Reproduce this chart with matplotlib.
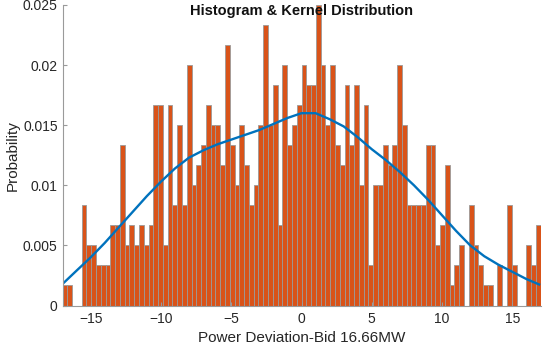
import matplotlib
matplotlib.use("Agg")
import matplotlib.pyplot as plt
import numpy as np

plt.rcParams["font.family"] = ["Liberation Sans", "DejaVu Sans"]

BAR = "#D95319"
EDGE = "#9a9a9a"
LINE = "#0072BD"
AXIS = "#9a9a9a"

# histogram: 100 bins of width 0.34 from -17 to 17, counts out of 600 samples
bin_start = -17.0
bin_width = 0.34
n_samples = 600
counts = [1, 1, 0, 0, 5, 3, 3, 2, 2, 2, 4, 4,
          8, 3, 4, 3, 4, 3, 4, 10, 10, 3, 10, 5, 9,
          5, 12, 6, 7, 8, 10, 9, 9, 7, 13, 8, 6, 9,
          7, 5, 6, 9, 14, 9, 11, 4, 12, 8, 9, 10,
          12, 11, 11, 15, 12, 9, 12, 8, 7, 11, 8, 11, 6,
          10, 2, 6, 6, 8, 7, 8, 12, 9, 5, 5, 5, 5,
          8, 8, 3, 4, 7, 1, 2, 3, 0, 5, 3, 2, 1, 1, 0, 2, 0, 5, 2, 0, 0, 3, 2, 4]

# kernel density curve
kde_x = [-16.9, -16, -15, -14, -13, -12, -11, -10, -9, -8, -7, -6, -5, -4, -3,
         -2, -1, 0, 1, 2, 3, 4, 5, 6, 7, 8, 9, 10, 11, 12, 13, 14, 15, 16, 16.9]
kde_y = [0.0019, 0.0029, 0.0040, 0.0052, 0.0065, 0.0078, 0.0091, 0.0103, 0.0114,
         0.0123, 0.0129, 0.0134, 0.0138, 0.0142, 0.0146, 0.0151, 0.0156, 0.0160,
         0.0160, 0.0155, 0.0149, 0.0140, 0.0130, 0.0121, 0.0111, 0.0100, 0.0088,
         0.0075, 0.0062, 0.0050, 0.0041, 0.0034, 0.0028, 0.0022, 0.00175]

y_ticks = [0, 0.005, 0.01, 0.015, 0.02, 0.025]
y_labels = ["0", "0.005", "0.01", "0.015", "0.02", "0.025"]
x_ticks = [-15, -10, -5, 0, 5, 10, 15]

fig = plt.figure(figsize=(5.5, 3.45), dpi=100)
ax = fig.add_axes([62.5 / 550, 1 - 305.5 / 345, 478 / 550, 300.5 / 345])

lefts = bin_start + bin_width * np.arange(len(counts))
probs = np.array(counts) / n_samples
ax.bar(lefts, probs, width=bin_width, align="edge", color=BAR,
       edgecolor=EDGE, linewidth=0.6)
ax.plot(kde_x, kde_y, color=LINE, lw=1.7)

ax.set_xlim(-17, 17)
ax.set_ylim(0, 0.025)
ax.set_xticks(x_ticks)
ax.set_yticks(y_ticks)
ax.set_yticklabels(y_labels)
ax.tick_params(direction="in", length=3, color=AXIS, labelsize=10,
               labelcolor="#262626")
ax.tick_params(axis="x", pad=5)
for s in ["top", "right"]:
    ax.spines[s].set_visible(False)
for s in ["left", "bottom"]:
    ax.spines[s].set_color(AXIS)
    ax.spines[s].set_linewidth(0.8)

ax.set_xlabel("Power Deviation-Bid 16.66MW", fontsize=11, color="#262626", labelpad=3)
ax.set_ylabel("Probability", fontsize=11, color="#262626", labelpad=2)
fig.text(301.5 / 550, 1 - 11 / 345, "Histogram & Kernel Distribution",
         ha="center", va="center", fontsize=10.5, fontweight="bold", color="#111111")

fig.savefig("out.png", dpi=100)
